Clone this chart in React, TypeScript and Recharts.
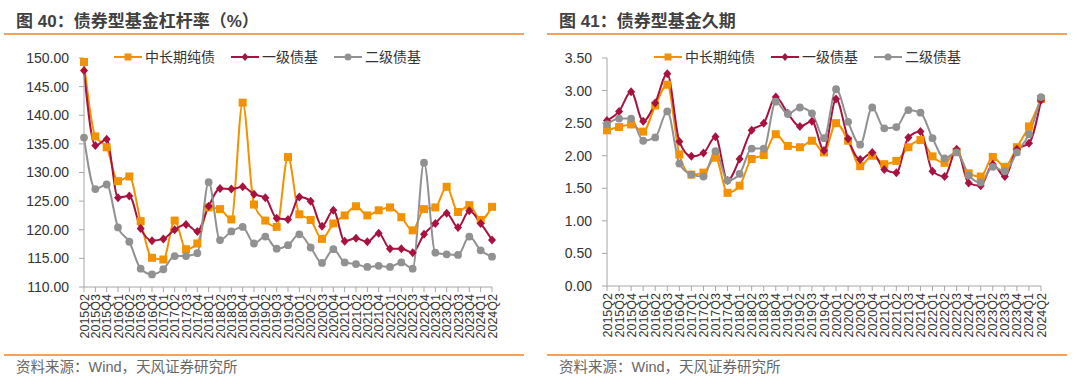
import React from 'react';
import { LineChart, Line, XAxis, YAxis } from 'recharts';

const quarters = [
  '2015Q2', '2015Q3', '2015Q4', '2016Q1', '2016Q2', '2016Q3', '2016Q4',
  '2017Q1', '2017Q2', '2017Q3', '2017Q4', '2018Q1', '2018Q2', '2018Q3', '2018Q4',
  '2019Q1', '2019Q2', '2019Q3', '2019Q4', '2020Q1', '2020Q2', '2020Q3', '2020Q4',
  '2021Q1', '2021Q2', '2021Q3', '2021Q4', '2022Q1', '2022Q2', '2022Q3', '2022Q4',
  '2023Q1', '2023Q2', '2023Q3', '2023Q4', '2024Q1', '2024Q2',
];

const seriesNames = ['中长期纯债', '一级债基', '二级债基'];

// 图40 杠杆率 (%)
const levMid = [149.3, 136.3, 134.4, 128.5, 129.3, 121.5, 115.1, 114.8, 121.6, 116.6, 117.6, 123.9, 123.6, 121.8, 142.2, 124.4, 121.6, 120.5, 132.7, 122.7, 121.7, 118.4, 121.1, 122.5, 124.1, 122.5, 123.4, 123.9, 122.2, 119.9, 123.6, 123.9, 127.5, 123.1, 124.3, 121.7, 124.0];
const levFirst = [147.8, 134.7, 135.8, 125.6, 125.9, 120.2, 118.1, 118.4, 120.0, 120.9, 119.7, 124.1, 127.2, 127.1, 127.5, 126.2, 125.6, 122.0, 121.8, 125.7, 125.0, 120.6, 123.4, 118.0, 118.5, 117.9, 119.4, 116.7, 116.7, 116.0, 119.2, 121.1, 122.9, 120.4, 123.3, 121.1, 118.2];
const levSecond = [136.1, 127.1, 127.9, 120.4, 117.9, 113.2, 112.2, 113.1, 115.4, 115.4, 115.9, 128.3, 118.2, 119.7, 120.5, 117.6, 118.8, 116.7, 117.3, 119.2, 116.9, 114.2, 116.6, 114.3, 114.0, 113.5, 113.7, 113.5, 114.3, 113.2, 131.7, 116.0, 115.7, 115.6, 118.8, 116.4, 115.3];
const levTicks = [110, 115, 120, 125, 130, 135, 140, 145, 150];

// 图41 久期
const durMid = [2.39, 2.44, 2.48, 2.37, 2.77, 3.09, 2.02, 1.71, 1.74, 1.97, 1.43, 1.54, 1.95, 2.01, 2.33, 2.15, 2.13, 2.23, 2.05, 2.50, 2.23, 1.84, 2.00, 1.87, 1.92, 2.13, 2.24, 1.99, 1.89, 2.06, 1.73, 1.68, 1.98, 1.83, 2.13, 2.45, 2.87];
const durFirst = [2.54, 2.68, 2.98, 2.53, 2.81, 3.26, 2.22, 1.99, 2.04, 2.29, 1.62, 1.95, 2.39, 2.50, 2.90, 2.65, 2.45, 2.53, 2.08, 2.87, 2.26, 1.94, 2.05, 1.79, 1.74, 2.28, 2.37, 1.76, 1.68, 2.10, 1.58, 1.54, 1.87, 1.68, 2.10, 2.19, 2.85];
const durSecond = [2.48, 2.57, 2.57, 2.23, 2.28, 2.68, 1.88, 1.71, 1.68, 2.07, 1.62, 1.72, 2.11, 2.11, 2.83, 2.64, 2.74, 2.65, 2.27, 3.02, 2.52, 2.17, 2.74, 2.42, 2.44, 2.70, 2.66, 2.27, 1.96, 2.05, 1.70, 1.59, 1.83, 1.76, 2.05, 2.33, 2.90];
const durTicks = [0, 0.5, 1, 1.5, 2, 2.5, 3, 3.5];

const ORANGE = '#F39200';
const RED = '#A8123E';
const GRAY = '#919191';
const RULE = '#F2A25E';
const AXIS = '#A6A6A6';
const TEXT = '#333333';
const FONT = "'Liberation Sans', Arial, 'Noto Sans CJK SC', sans-serif";

const levData = quarters.map((q, i) => ({ q, mid: levMid[i], first: levFirst[i], second: levSecond[i] }));
const durData = quarters.map((q, i) => ({ q, mid: durMid[i], first: durFirst[i], second: durSecond[i] }));

const SquareDot = (p: any) => {
  const { cx, cy, index } = p;
  if (cx == null || cy == null) return <g key={index} />;
  return <rect key={index} x={cx - 4} y={cy - 4} width={8} height={8} fill={ORANGE} />;
};
const DiamondDot = (p: any) => {
  const { cx, cy, index } = p;
  if (cx == null || cy == null) return <g key={index} />;
  return <path key={index} d={`M${cx},${cy - 4.5}L${cx + 4},${cy}L${cx},${cy + 4.5}L${cx - 4},${cy}Z`} fill={RED} />;
};
const CircleDot = (p: any) => {
  const { cx, cy, index } = p;
  if (cx == null || cy == null) return <g key={index} />;
  return <circle key={index} cx={cx} cy={cy} r={3.9} fill={GRAY} />;
};

const XTick = (p: any) => {
  const { x, y, payload } = p;
  return (
    <g transform={`translate(${x},${y})`}>
      <text transform="rotate(-90)" textAnchor="end" dy="0.36em" fontSize={12.5} fill={TEXT} fontFamily={FONT}>
        {payload.value}
      </text>
    </g>
  );
};

const LegendSample = ({ kind, color }: { kind: string; color: string }) => (
  <svg width={28} height={10} style={{ display: 'block' }}>
    <line x1={0} y1={5} x2={28} y2={5} stroke={color} strokeWidth={2} />
    {kind === 'square' && <rect x={10.5} y={1.5} width={7} height={7} fill={color} />}
    {kind === 'diamond' && <path d="M14,1 L17.5,5 L14,9 L10.5,5 Z" fill={color} />}
    {kind === 'circle' && <circle cx={14} cy={5} r={3.5} fill={color} />}
  </svg>
);

const Legend3 = ({ left }: { left: number }) => {
  const kinds = [
    { kind: 'square', color: ORANGE },
    { kind: 'diamond', color: RED },
    { kind: 'circle', color: GRAY },
  ];
  return (
    <div style={{ position: 'absolute', left, top: 48, height: 18, display: 'flex', alignItems: 'center', gap: 16 }}>
      {seriesNames.map((n, i) => (
        <div key={n} style={{ display: 'flex', alignItems: 'center', gap: 3 }}>
          <LegendSample kind={kinds[i].kind} color={kinds[i].color} />
          <span style={{ fontSize: 14, color: TEXT, fontFamily: FONT, lineHeight: '18px', whiteSpace: 'nowrap' }}>{n}</span>
        </div>
      ))}
    </div>
  );
};

const Panel = ({ left, title }: { left: number; title: string }) => (
  <>
    <div style={{ position: 'absolute', left: left + 12, top: 11, fontSize: 17, fontWeight: 700, color: '#404040', fontFamily: FONT, lineHeight: '22px', whiteSpace: 'nowrap' }}>
      {title}
    </div>
    <div style={{ position: 'absolute', left, top: 33, width: 520, height: 2, background: RULE }} />
    <div style={{ position: 'absolute', left, top: 354, width: 520, height: 2, background: RULE }} />
    <div style={{ position: 'absolute', left: left + 12, top: 358, fontSize: 14.5, color: '#666666', fontFamily: FONT, lineHeight: '18px', whiteSpace: 'nowrap' }}>
      资料来源：Wind，天风证券研究所
    </div>
  </>
);

const renderLines = () => [
  <Line key="mid" type="monotone" dataKey="mid" name={seriesNames[0]} stroke={ORANGE} strokeWidth={2} dot={SquareDot} activeDot={false} isAnimationActive={false} />,
  <Line key="first" type="monotone" dataKey="first" name={seriesNames[1]} stroke={RED} strokeWidth={2} dot={DiamondDot} activeDot={false} isAnimationActive={false} />,
  <Line key="second" type="monotone" dataKey="second" name={seriesNames[2]} stroke={GRAY} strokeWidth={2} dot={CircleDot} activeDot={false} isAnimationActive={false} />,
];

export default function App() {
  return (
    <div style={{ position: 'absolute', left: 0, top: 0, width: 1080, height: 384, background: '#fff', overflow: 'hidden' }}>
      <Panel left={4} title="图 40：债券型基金杠杆率（%）" />
      <Panel left={547} title="图 41：债券型基金久期" />
      <Legend3 left={114} />
      <Legend3 left={654} />

      <div style={{ position: 'absolute', left: 0, top: 0 }}>
        <LineChart width={540} height={384} data={levData} margin={{ top: 58, right: 48, left: 24, bottom: 37 }}>
          <XAxis dataKey="q" scale="point" interval={0} height={60} tickSize={5} tickMargin={2} tick={<XTick />} axisLine={{ stroke: AXIS }} tickLine={{ stroke: AXIS }} />
          <YAxis domain={[110, 150]} ticks={levTicks} interval={0} width={60} tickSize={5} tickMargin={10} tickFormatter={(v: number) => v.toFixed(2)} tick={{ fontSize: 14, fill: TEXT, fontFamily: FONT }} axisLine={{ stroke: AXIS }} tickLine={{ stroke: AXIS }} allowDataOverflow />
          {renderLines()}
        </LineChart>
      </div>

      <div style={{ position: 'absolute', left: 540, top: 0 }}>
        <LineChart width={540} height={384} data={durData} margin={{ top: 58, right: 39, left: 7, bottom: 38 }}>
          <XAxis dataKey="q" scale="point" interval={0} height={60} tickSize={5} tickMargin={2} tick={<XTick />} axisLine={{ stroke: AXIS }} tickLine={{ stroke: AXIS }} />
          <YAxis domain={[0, 3.5]} ticks={durTicks} interval={0} width={60} tickSize={5} tickMargin={10} tickFormatter={(v: number) => v.toFixed(2)} tick={{ fontSize: 14, fill: TEXT, fontFamily: FONT }} axisLine={{ stroke: AXIS }} tickLine={{ stroke: AXIS }} allowDataOverflow />
          {renderLines()}
        </LineChart>
      </div>
    </div>
  );
}
